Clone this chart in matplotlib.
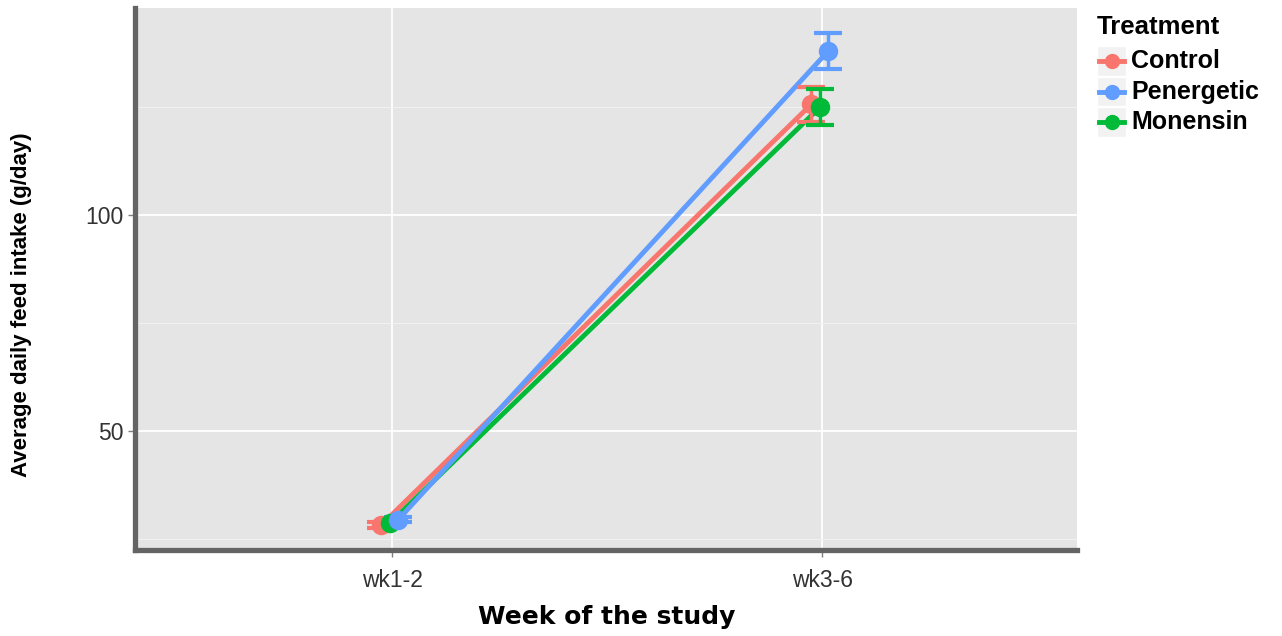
import numpy as np
import matplotlib.pyplot as plt
from matplotlib.lines import Line2D
from matplotlib.patches import Rectangle

plt.rcParams['font.family'] = ['Liberation Sans', 'DejaVu Sans']

# data
weeks = ['wk1-2', 'wk3-6']
treatments = ['Control', 'Penergetic', 'Monensin']
colors = ['#F8766D', '#619CFF', '#00BA38']
intake = {
    'Control': [28.2, 125.6],
    'Penergetic': [29.4, 137.9],
    'Monensin': [28.7, 125.0],
}
se = {
    'Control': [0.6, 4.0],
    'Penergetic': [0.6, 4.2],
    'Monensin': [0.6, 4.2],
}
dodge = {'Control': -0.025, 'Penergetic': 0.014, 'Monensin': -0.004}
draw_order = ['Control', 'Monensin', 'Penergetic']

W, H = 1282, 636
fig = plt.figure(figsize=(W / 100, H / 100), dpi=100)
ax = fig.add_axes([135 / W, 1 - 550 / H, (1077 - 135) / W, (550 - 8) / H])
ax.set_facecolor('#E5E5E5')

x = np.arange(1, len(weeks) + 1)
col_of = dict(zip(treatments, colors))
for name in draw_order:
    col = col_of[name]
    xs = x + dodge[name]
    ax.plot(xs, intake[name], color=col, lw=3.5, zorder=3)
    ax.errorbar(xs, intake[name], yerr=se[name], fmt='o', color=col,
                ms=13, elinewidth=2.5, capsize=10, capthick=3, zorder=4)

ax.set_xlim(0.402, 2.593)
ax.set_ylim(22.4, 147.9)
ax.set_xticks(x)
ax.set_xticklabels(weeks)
ax.set_yticks([50, 100])
ax.set_yticks([25, 75, 125], minor=True)
ax.grid(True, which='major', color='white', lw=1.3)
ax.grid(True, which='minor', color='#F2F2F2', lw=0.7)
ax.set_axisbelow(True)

for s in ['top', 'right']:
    ax.spines[s].set_visible(False)
for s in ['left', 'bottom']:
    ax.spines[s].set_color('#646464')
    ax.spines[s].set_linewidth(3.8)

ax.tick_params(axis='both', which='major', length=5, width=1, color='#7F7F7F',
               labelsize=16.5, labelcolor='#333333')
ax.tick_params(axis='y', pad=3)
ax.tick_params(axis='x', pad=9)
ax.tick_params(axis='both', which='minor', length=0)

fig.text(607 / W, 1 - 617 / H, 'Week of the study', fontsize=18,
         fontweight='bold', family='DejaVu Sans', ha='center', va='center')
fig.text(22 / W, 1 - 305 / H, 'Average daily feed intake (g/day)', fontsize=16,
         fontweight='bold', rotation=90, ha='center', va='center')

# legend drawn by hand to match the ggplot guide
fig.text(1097 / W, 1 - 27 / H, 'Treatment', fontsize=18.5, fontweight='bold',
         ha='left', va='center')
for i, (name, col) in enumerate(zip(treatments, colors)):
    yc = 61 + i * 30.5
    fig.add_artist(Rectangle((1097 / W, 1 - (yc + 14.5) / H), 29 / W, 29 / H,
                             transform=fig.transFigure, facecolor='#F2F2F2',
                             edgecolor='white', lw=1))
    fig.add_artist(Line2D([1099 / W, 1124 / W], [1 - yc / H] * 2,
                          transform=fig.transFigure, color=col, lw=3.5))
    fig.add_artist(Line2D([1111.5 / W], [1 - yc / H], transform=fig.transFigure,
                          color=col, marker='o', ms=10, lw=0))
    fig.text(1131 / W, 1 - yc / H, name, fontsize=18, fontweight='bold',
             ha='left', va='center')

fig.savefig('out.png', dpi=100)
